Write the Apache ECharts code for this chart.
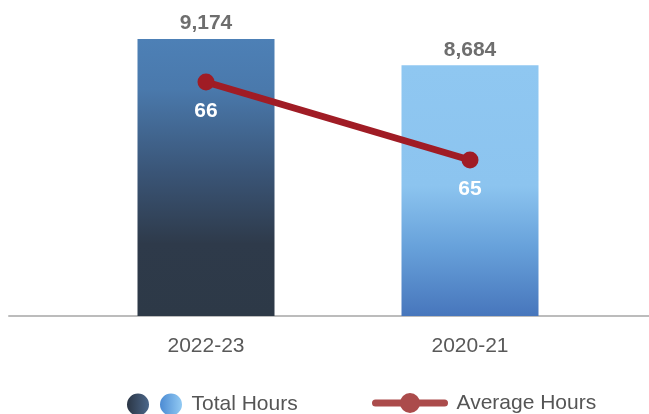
<!DOCTYPE html>
<html>
<head>
<meta charset="utf-8">
<script src="https://cdn.jsdelivr.net/npm/echarts@6/dist/echarts.min.js"></script>
<style>
  html, body { margin: 0; padding: 0; background: #fff; }
  #chart { width: 649px; height: 414px; }
</style>
</head>
<body>
<div id="chart"></div>
<script>
// Reporting periods and their values
const categories = ['2022-23', '2020-21'];
const totalHours = [9174, 8684];
const averageHours = [66, 65];

const FONT = '"Liberation Sans", Arial, Helvetica, sans-serif';

// Vertical fill for each period's bar
const barFills = [
  new echarts.graphic.LinearGradient(0, 0, 0, 1, [
    { offset: 0, color: '#4d80b6' },
    { offset: 0.18, color: '#4a79ac' },
    { offset: 0.48, color: '#3a5577' },
    { offset: 0.74, color: '#2e3a4a' },
    { offset: 1, color: '#2d3947' }
  ]),
  new echarts.graphic.LinearGradient(0, 0, 0, 1, [
    { offset: 0, color: '#8fc7f1' },
    { offset: 0.48, color: '#8cc4ef' },
    { offset: 0.72, color: '#68a2db' },
    { offset: 1, color: '#4776bc' }
  ])
];

const legendIconFill = new echarts.graphic.LinearGradient(0, 0, 1, 0, [
  { offset: 0, color: '#2b3645' },
  { offset: 0.38, color: '#4a6486' },
  { offset: 0.6, color: '#4c8bd3' },
  { offset: 1, color: '#92caf3' }
]);

const chart = echarts.init(document.getElementById('chart'), null, { renderer: 'canvas' });

chart.setOption({
  animation: false,
  textStyle: { fontFamily: FONT },
  grid: [
    { left: 74, right: 47, top: 4, bottom: 98 },
    { left: 9, right: 0, top: 4, bottom: 98 }
  ],
  xAxis: [
    {
      type: 'category',
      gridIndex: 0,
      data: categories,
      axisLine: { show: false },
      axisTick: { show: false },
      axisLabel: { fontSize: 21, color: '#595959', margin: 20, fontFamily: FONT }
    },
    {
      type: 'category',
      gridIndex: 1,
      data: [''],
      axisLine: { show: true, lineStyle: { color: '#bcbcbc', width: 2 } },
      axisTick: { show: false },
      axisLabel: { show: false }
    }
  ],
  yAxis: [
    { type: 'value', gridIndex: 0, min: 4000, max: 9830, show: false, splitLine: { show: false } },
    { type: 'value', gridIndex: 0, min: 63, max: 67, show: false, splitLine: { show: false } },
    { type: 'value', gridIndex: 1, show: false, splitLine: { show: false } }
  ],
  legend: [
    {
      left: 127,
      top: 393.5,
      padding: 0,
      selectedMode: false,
      itemWidth: 56,
      itemHeight: 22,
      textStyle: { fontSize: 21, color: '#555', fontFamily: FONT, padding: [5, 0, 0, 4] },
      data: [{
        name: 'Total Hours',
        icon: 'path://M0,11A11,11 0 1,1 22,11A11,11 0 1,1 0,11ZM33,11A11,11 0 1,1 55,11A11,11 0 1,1 33,11Z',
        itemStyle: { color: legendIconFill }
      }]
    },
    {
      left: 372,
      top: 392.5,
      padding: 0,
      selectedMode: false,
      itemWidth: 69,
      itemHeight: 25,
      textStyle: { fontSize: 21, color: '#555', fontFamily: FONT, padding: [8, 0, 0, 7] },
      lineStyle: { color: '#ab4b4b', width: 7, cap: 'round' },
      itemStyle: { color: '#ab4b4b' },
      data: ['Average Hours']
    }
  ],
  series: [
    {
      name: 'Total Hours',
      type: 'bar',
      xAxisIndex: 0,
      yAxisIndex: 0,
      barWidth: 137,
      itemStyle: { color: '#4a7db3' },
      data: totalHours.map((v, i) => ({ value: v, itemStyle: { color: barFills[i] } })),
      label: {
        show: true,
        position: 'top',
        distance: 5,
        fontSize: 21,
        fontWeight: 'bold',
        color: '#6e6e6e',
        fontFamily: FONT,
        formatter: p => p.value.toLocaleString('en-US')
      },
      z: 2
    },
    {
      name: 'Average Hours',
      type: 'line',
      xAxisIndex: 0,
      yAxisIndex: 1,
      data: averageHours,
      symbol: 'circle',
      symbolSize: 17,
      lineStyle: { color: '#a01c25', width: 7 },
      itemStyle: { color: '#a01c25' },
      label: {
        show: true,
        position: 'bottom',
        distance: 10,
        fontSize: 21,
        fontWeight: 'bold',
        color: '#ffffff',
        fontFamily: FONT
      },
      z: 3
    }
  ]
});
</script>
</body>
</html>
